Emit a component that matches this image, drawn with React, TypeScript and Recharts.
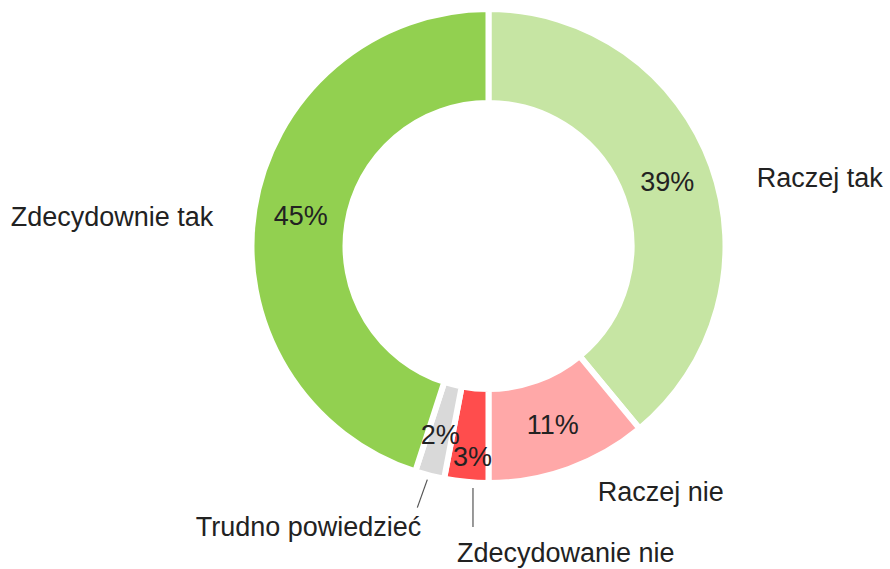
import React from "react";
import { PieChart, Pie, Cell } from "recharts";

const categories = ["Raczej tak", "Raczej nie", "Zdecydowanie nie", "Trudno powiedzieć", "Zdecydownie tak"];
const values = [39, 11, 3, 2, 45];
const colors = ["#C6E5A3", "#FFA8A8", "#FF4D4D", "#D9D9D9", "#92D050"];

const data = categories.map((name, i) => ({ name, value: values[i] }));

// label layout offsets (relative to the slice's outer-edge midpoint)
const nameLayout: Record<string, { dx: number; dy: number; anchor: string; leader?: [number, number, number, number] }> = {
  "Raczej tak": { dx: 48, dy: 11, anchor: "start" },
  "Zdecydownie tak": { dx: -44, dy: 8, anchor: "end" },
  "Raczej nie": { dx: 30, dy: 26, anchor: "start" },
  "Trudno powiedzieć": { dx: -9, dy: 54, anchor: "end", leader: [-3, 7, -13, 35] },
  "Zdecydowanie nie": { dx: -9.5, dy: 74, anchor: "start", leader: [6.5, 9, 6.5, 48] },
};
const pctOffset: Record<string, [number, number]> = {
  "Zdecydowanie nie": [2, 22],
  "Trudno powiedzieć": [-1, 5],
};

const FONT = "Arial, 'Liberation Sans', sans-serif";
const RAD = Math.PI / 180;

const renderLabel = (props: any) => {
  const { cx, cy, midAngle, innerRadius, outerRadius, percent, name } = props;
  const cos = Math.cos(-midAngle * RAD);
  const sin = Math.sin(-midAngle * RAD);
  const rm = (innerRadius + outerRadius) / 2;
  const po = pctOffset[name] || [0, 0];
  const px = cx + rm * cos + po[0];
  const py = cy + rm * sin + po[1];
  const re = outerRadius - 3;
  const ex = cx + re * cos;
  const ey = cy + re * sin;
  const lay = nameLayout[name];
  return (
    <g>
      <text x={px} y={py} textAnchor="middle" dominantBaseline="central" fill="#222" fontSize={27} fontFamily={FONT}>
        {Math.round(percent * 100) + "%"}
      </text>
      {lay.leader && (
        <line x1={ex + lay.leader[0]} y1={ey + lay.leader[1]} x2={ex + lay.leader[2]} y2={ey + lay.leader[3]} stroke="#555" strokeWidth={1.2} />
      )}
      <text x={ex + lay.dx} y={ey + lay.dy} textAnchor={lay.anchor as any} dominantBaseline="central" fill="#222" fontSize={27} fontFamily={FONT}>
        {name}
      </text>
    </g>
  );
};

export default function App() {
  return (
    <div style={{ position: "absolute", left: 0, top: 0, width: 890, height: 569, background: "#fff" }}>
      <PieChart width={890} height={569} margin={{ top: 0, right: 0, bottom: 0, left: 0 }}>
        <Pie
          data={data}
          dataKey="value"
          nameKey="name"
          cx={488.5}
          cy={246}
          innerRadius={143}
          outerRadius={237}
          startAngle={90}
          endAngle={-270}
          stroke="#fff"
          strokeWidth={6}
          label={renderLabel}
          labelLine={false}
          isAnimationActive={false}
        >
          {data.map((d, i) => (
            <Cell key={d.name} fill={colors[i]} />
          ))}
        </Pie>
      </PieChart>
    </div>
  );
}
